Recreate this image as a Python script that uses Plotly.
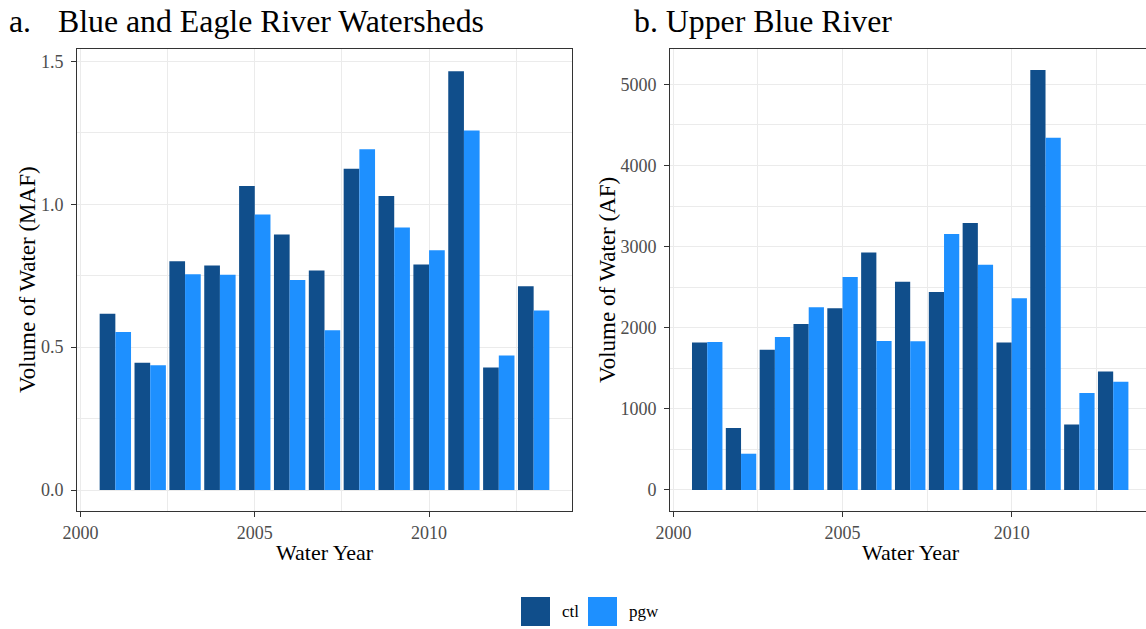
import plotly.graph_objects as go

# Water years and simulated volumes for the control (ctl) and
# pseudo-global-warming (pgw) runs
years = [2001, 2002, 2003, 2004, 2005, 2006, 2007, 2008, 2009, 2010, 2011, 2012, 2013]

# a. Blue and Eagle River watersheds, million acre-feet
blue_eagle_ctl = [0.617, 0.445, 0.801, 0.786, 1.064, 0.894, 0.768, 1.124, 1.029, 0.789, 1.466, 0.429, 0.713]
blue_eagle_pgw = [0.553, 0.437, 0.755, 0.753, 0.964, 0.735, 0.559, 1.193, 0.919, 0.839, 1.258, 0.471, 0.628]

# b. Upper Blue River, acre-feet
upper_blue_ctl = [1817, 763, 1727, 2047, 2239, 2927, 2565, 2440, 3289, 1817, 5176, 808, 1460]
upper_blue_pgw = [1825, 447, 1887, 2252, 2625, 1835, 1833, 3154, 2777, 2362, 4340, 1194, 1333]

series_names = ["ctl", "pgw"]
series_colors = ["#104E8B", "#1E90FF"]

x_ticks = [2000, 2005, 2010]
ya_ticks = [0.0, 0.5, 1.0, 1.5]
yb_ticks = [0, 1000, 2000, 3000, 4000, 5000]

W, H = 1146, 629
ML, MR, MT, MB = 77, 0, 49, 118
PW = W - ML - MR
PH = H - MT - MB


def px(x):
    return (x - ML) / PW


def py(y):
    return (H - MB - y) / PH


SERIF = "Liberation Serif, Times New Roman, serif"
GRID = "#EBEBEB"
FRAME = "#333333"
TICKTXT = "#4D4D4D"

fig = go.Figure()

for name, color, vals in zip(series_names, series_colors, [blue_eagle_ctl, blue_eagle_pgw]):
    fig.add_trace(go.Bar(x=years, y=vals, name=name, marker=dict(color=color, line=dict(width=0)),
                         xaxis="x", yaxis="y", showlegend=False))
for name, color, vals in zip(series_names, series_colors, [upper_blue_ctl, upper_blue_pgw]):
    fig.add_trace(go.Bar(x=years, y=vals, name=name, marker=dict(color=color, line=dict(width=0)),
                         xaxis="x2", yaxis="y2", showlegend=False))

common_x = dict(
    tickmode="array", tickvals=x_ticks, ticks="outside", ticklen=5, tickcolor=FRAME, tickwidth=1,
    showline=True, linecolor=FRAME, linewidth=1, mirror=True,
    showgrid=True, gridcolor=GRID, gridwidth=1.3, zeroline=False,
    minor=dict(tickmode="array", tickvals=[2002.5, 2007.5, 2012.5], showgrid=True,
               gridcolor=GRID, gridwidth=0.8, ticks=""),
    tickfont=dict(family=SERIF, size=18, color=TICKTXT),
)
common_y = dict(
    ticks="outside", ticklen=5, tickcolor=FRAME, tickwidth=1,
    showline=True, linecolor=FRAME, linewidth=1,
    showgrid=True, gridcolor=GRID, gridwidth=1.3, zeroline=False,
    tickfont=dict(family=SERIF, size=18, color=TICKTXT), ticklabelstandoff=4,
)

fig.update_layout(
    width=W, height=H,
    margin=dict(l=ML, r=MR, t=MT, b=MB, autoexpand=False),
    paper_bgcolor="white", plot_bgcolor="white",
    barmode="group", bargap=0.1, bargroupgap=0,
    showlegend=False,
    xaxis=dict(domain=[0, px(572)], range=[1999.9, 2014.1], anchor="y", **common_x),
    yaxis=dict(domain=[0, 1], range=[-0.0735, 1.5435], anchor="x", mirror=True,
               tickvals=ya_ticks, tickformat=".1f",
               minor=dict(tickmode="array", tickvals=[0.25, 0.75, 1.25], showgrid=True,
                          gridcolor=GRID, gridwidth=0.8, ticks=""),
               **common_y),
    xaxis2=dict(domain=[px(670), 1], range=[1999.9, 2013.97], anchor="y2", **common_x),
    yaxis2=dict(domain=[0, 1], range=[-259, 5435], anchor="x2", mirror=False,
                tickvals=yb_ticks,
                minor=dict(tickmode="array", tickvals=[500, 1500, 2500, 3500, 4500], showgrid=True,
                           gridcolor=GRID, gridwidth=0.8, ticks=""),
                **common_y),
)

TITLE_SIZE = 31.8

anns = []
# panel titles
anns.append(dict(text="a.", x=px(7), y=py(21), xanchor="left", yanchor="middle",
                 font=dict(family=SERIF, size=TITLE_SIZE, color="black")))
anns.append(dict(text="Blue and Eagle River Watersheds", x=px(56), y=py(21), xanchor="left",
                 yanchor="middle", font=dict(family=SERIF, size=TITLE_SIZE, color="black")))
anns.append(dict(text="b. Upper Blue River", x=px(632), y=py(21), xanchor="left", yanchor="middle",
                 font=dict(family=SERIF, size=TITLE_SIZE, color="black")))
# axis titles
anns.append(dict(text="Volume of Water (MAF)", x=px(27), y=py(280), textangle=-90,
                 xanchor="center", yanchor="middle", font=dict(family=SERIF, size=23, color="black")))
anns.append(dict(text="Volume of Water (AF)", x=px(607), y=py(280), textangle=-90,
                 xanchor="center", yanchor="middle", font=dict(family=SERIF, size=23, color="black")))
anns.append(dict(text="Water Year", x=px(325), y=py(552), xanchor="center", yanchor="middle",
                 font=dict(family=SERIF, size=22, color="black")))
anns.append(dict(text="Water Year", x=px(911), y=py(552), xanchor="center", yanchor="middle",
                 font=dict(family=SERIF, size=22, color="black")))

# legend keys and labels
shapes = []
key_left = [521, 588]
label_left = [560, 627]
for name, color, kx, lx in zip(series_names, series_colors, key_left, label_left):
    shapes.append(dict(type="rect", xref="paper", yref="paper", x0=px(kx), x1=px(kx + 29),
                       y0=py(626), y1=py(597), fillcolor=color, line=dict(width=0)))
    anns.append(dict(text=name, x=px(lx), y=py(611), xanchor="left", yanchor="middle",
                     font=dict(family=SERIF, size=17, color="black")))

for a in anns:
    a.update(xref="paper", yref="paper", showarrow=False)

fig.update_layout(annotations=anns, shapes=shapes)

fig.write_html("out.html")
